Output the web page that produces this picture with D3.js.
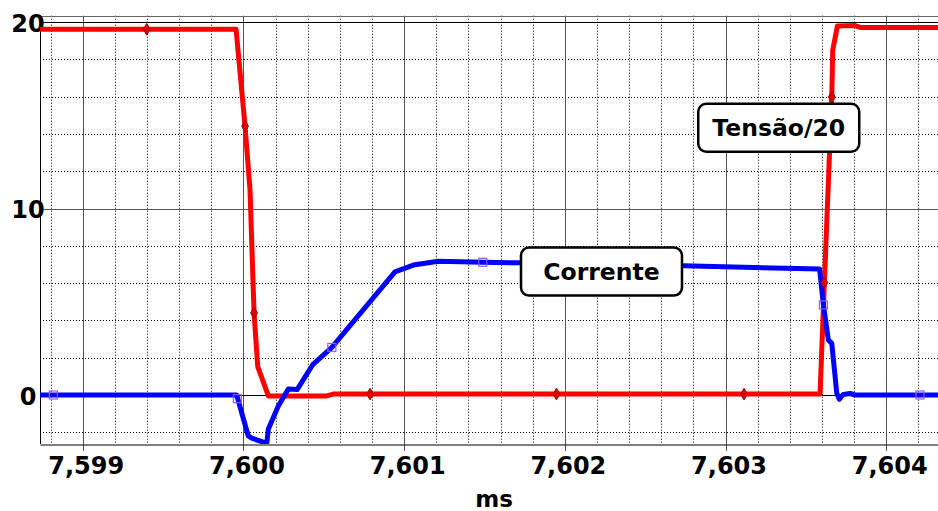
<!DOCTYPE html>
<html>
<head>
<meta charset="utf-8">
<script src="https://cdn.jsdelivr.net/npm/d3@7"></script>
<style>
  body { margin: 0; background: #fff; }
  svg { display: block; font-family: "DejaVu Sans", sans-serif; font-weight: bold; }
</style>
</head>
<body>
<svg id="chart" width="938" height="511"></svg>
<script>
// Tensão/20 (vermelho)
const tensaoX = [7.59873, 7.599954, 7.600010, 7.600041, 7.600066, 7.600089, 7.600155, 7.600518, 7.600558,
                 7.603588, 7.603615, 7.603661, 7.603667, 7.603696, 7.603806, 7.603837, 7.604322];
const tensaoY = [19.62, 19.62, 14.42, 10.99, 4.40, 1.52, -0.05, -0.05, 0.05,
                 0.05, 6.03, 15.99, 18.50, 19.80, 19.82, 19.72, 19.72];
const tensaoMarkX = [7.599398, 7.600010, 7.600066, 7.600788, 7.601948, 7.603115, 7.603615, 7.603661];
const tensaoMarkY = [19.62, 14.42, 4.40, 0.05, 0.05, 0.05, 6.03, 15.99];

// Corrente (azul)
const correnteX = [7.59873, 7.599958, 7.600030, 7.600052, 7.600145, 7.600155, 7.600217, 7.600279, 7.600334,
                   7.600430, 7.600550, 7.600943, 7.601057, 7.601213, 7.601489, 7.601721, 7.602737, 7.603585,
                   7.603609, 7.603640, 7.603661, 7.603692, 7.603708, 7.603733, 7.603775, 7.603806, 7.604322];
const correnteY = [0, 0, -2.20, -2.32, -2.60, -1.82, -0.59, 0.32, 0.29,
                   1.61, 2.55, 6.61, 6.97, 7.18, 7.12, 7.09, 6.93, 6.76,
                   4.83, 2.95, 2.77, 0.09, -0.23, 0.03, 0.08, 0, 0];
const correnteMarkX = [7.598817, 7.599962, 7.600550, 7.601489, 7.603609, 7.604210];
const correnteMarkY = [0, -0.2, 2.55, 7.12, 4.83, 0];

const xDomain = [7.598734, 7.604322];
const yDomain = [-2.63, 20.35];
const xTicks = [7.599, 7.600, 7.601, 7.602, 7.603, 7.604];
const yTicks = [0, 10, 20];
const labelText = ["Corrente", "Tensão/20"];
const labelX = [7.602228, 7.603331];
const labelY = [6.62, 14.34];

addEventListener("load", () => {
    let svg = d3.select("#chart");
    let left = 40, right = 938, top = 15.7, bottom = 444;
    let x = d3.scaleLinear().domain(xDomain).range([left, right]);
    let y = d3.scaleLinear().domain(yDomain).range([bottom, top]);
    let fmt = d3.formatLocale({ decimal: ",", thousands: ".", grouping: [3], currency: ["", ""] }).format(".3f");
    let px = v => Math.round(v) + 0.5;

    svg.append("clipPath").attr("id", "plot")
        .append("rect").attr("x", left).attr("y", top).attr("width", right - left).attr("height", bottom - top);

    // grelha menor (pontilhada)
    let isMajorX = t => xTicks.some(m => Math.abs(m - t) < 1e-7);
    svg.append("g").selectAll("line").data(x.ticks(28).filter(t => !isMajorX(t))).join("line")
        .attr("x1", d => px(x(d))).attr("x2", d => px(x(d)))
        .attr("y1", top).attr("y2", bottom)
        .attr("stroke", "#000").attr("stroke-dasharray", "1,2");
    svg.append("g").selectAll("line").data(y.ticks(12).filter(t => !yTicks.includes(t))).join("line")
        .attr("x1", left).attr("x2", right)
        .attr("y1", d => px(y(d))).attr("y2", d => px(y(d)))
        .attr("stroke", "#000").attr("stroke-dasharray", "1,2");

    // grelha principal
    svg.append("g").selectAll("line").data(xTicks).join("line")
        .attr("x1", d => px(x(d))).attr("x2", d => px(x(d)))
        .attr("y1", top).attr("y2", bottom + 7)
        .attr("stroke", "#555");
    svg.append("g").selectAll("line").data(yTicks).join("line")
        .attr("x1", left).attr("x2", right)
        .attr("y1", d => px(y(d))).attr("y2", d => px(y(d)))
        .attr("stroke", d => d == 10 ? "#555" : "#000");

    // moldura
    svg.append("line").attr("x1", left).attr("x2", right).attr("y1", px(top)).attr("y2", px(top)).attr("stroke", "#666");
    svg.append("line").attr("x1", px(left)).attr("x2", px(left)).attr("y1", top).attr("y2", bottom).attr("stroke", "#000");

    // eixo x
    let xAxis = svg.append("g").attr("transform", `translate(0,${px(bottom)})`)
        .call(d3.axisBottom(x).tickValues(xTicks).tickFormat(fmt).tickSizeInner(0).tickSizeOuter(0).tickPadding(0));
    xAxis.select(".domain").attr("stroke", "#000");
    xAxis.selectAll("text").attr("font-size", 24).attr("font-family", "DejaVu Sans").attr("font-weight", "bold")
        .attr("fill", "#000").attr("dx", 3).attr("dy", null).attr("y", 29);

    // eixo y
    svg.append("g").selectAll("text").data(yTicks).join("text")
        .attr("x", 28).attr("y", d => y(d) + 1).attr("dy", "0.36em")
        .attr("text-anchor", "middle").attr("font-size", 24).text(d => d);

    svg.append("text").attr("x", 494).attr("y", 507).attr("text-anchor", "middle")
        .attr("font-size", 23).text("ms");

    // curvas
    let line = d3.line().x(d => x(d[0])).y(d => y(d[1]));
    let series = [
        { xs: tensaoX, ys: tensaoY, color: "#ff0000" },
        { xs: correnteX, ys: correnteY, color: "#0000ff" }
    ];
    let g = svg.append("g").attr("clip-path", "url(#plot)");
    series.forEach(s => {
        g.append("path").datum(d3.zip(s.xs, s.ys)).attr("d", line)
            .attr("fill", "none").attr("stroke", s.color).attr("stroke-width", 5)
            .attr("stroke-linejoin", "round").attr("stroke-linecap", "round");
    });

    // marcadores
    g.append("g").selectAll("path").data(d3.zip(tensaoMarkX, tensaoMarkY)).join("path")
        .attr("d", d3.symbol(d3.symbolDiamond, 40))
        .attr("transform", d => `translate(${x(d[0])},${y(d[1])})`)
        .attr("fill", "#e00000").attr("stroke", "#a00000").attr("stroke-width", 1);
    g.append("g").selectAll("rect").data(d3.zip(correnteMarkX, correnteMarkY)).join("rect")
        .attr("x", d => x(d[0]) - 4).attr("y", d => y(d[1]) - 4)
        .attr("width", 8).attr("height", 8)
        .attr("fill", "none").attr("stroke", "#9955ff").attr("stroke-width", 1.2);

    // rótulos
    let boxW = 161, boxH = 48;
    let lab = svg.append("g").selectAll("g").data(d3.zip(labelText, labelX, labelY)).join("g")
        .attr("transform", d => `translate(${x(d[1])},${y(d[2])})`);
    lab.append("rect").attr("x", -boxW / 2).attr("y", -boxH / 2).attr("width", boxW).attr("height", boxH)
        .attr("rx", 8).attr("fill", "#fff").attr("stroke", "#000").attr("stroke-width", 2.5);
    lab.append("text").attr("text-anchor", "middle").attr("dy", "0.36em")
        .attr("font-size", 23.5).text(d => d[0]);
});
</script>
</body>
</html>
